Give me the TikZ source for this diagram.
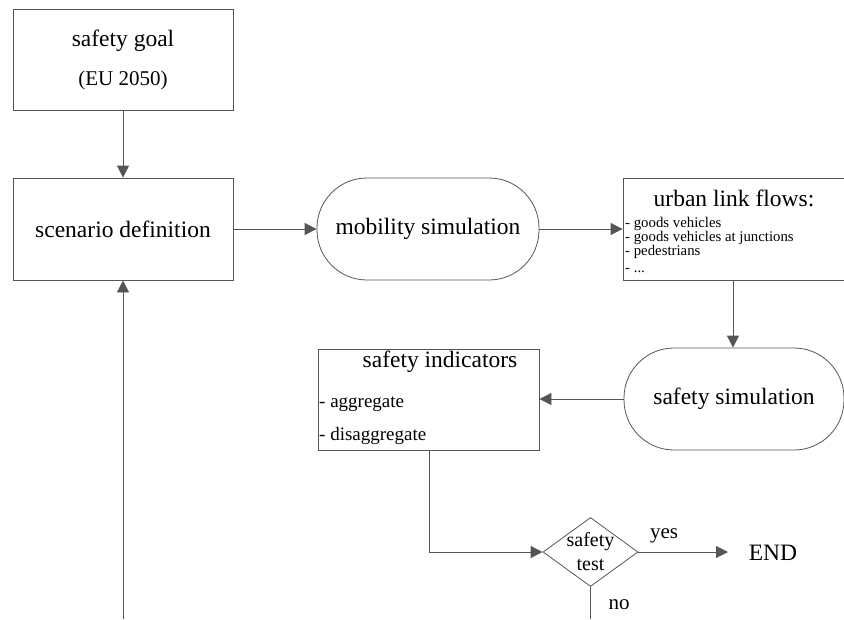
\documentclass[tikz,border=0pt]{standalone}
\usepackage{fontspec}
\setmainfont{Liberation Serif}
\usetikzlibrary{shapes.geometric,arrows.meta}
\definecolor{ln}{HTML}{555555}
\tikzset{
  box/.style={draw=ln, line width=0.8pt, inner sep=0pt},
  stad/.style={draw=ln, line width=0.8pt, rounded corners=50pt, inner sep=0pt},
  conn/.style={draw=ln, line width=0.8pt, -{Triangle[length=12pt,width=12pt]}},
  plain/.style={draw=ln, line width=0.8pt},
  txt/.style={inner sep=0pt, text=black},
  big/.style={font=\fontsize{23.5}{28}\selectfont},
  small/.style={anchor=west, font=\fontsize{14.8}{16}\selectfont},
}
\begin{document}
\begin{tikzpicture}[x=1pt,y=-1pt]
\useasboundingbox (0,0) rectangle (844,619);
% safety goal
\node[box, minimum width=220pt, minimum height=101pt] (goal) at (123,59.5) {};
\node[txt, big] (goalt) at (123,41) {safety goal};
\node[txt, font=\fontsize{21}{25}\selectfont] (goalu) at (123,80) {(EU 2050)};
% scenario
\node[box, minimum width=220pt, minimum height=102pt] (scen) at (123,229) {};
\node[txt, big] (scent) at (123,229) {scenario definition};
% mobility
\node[stad, minimum width=222pt, minimum height=102pt] (mob) at (428,229) {};
\node[txt, big] (mobt) at (428,229) {mobility simulation};
% urban link flows
\node[box, minimum width=224pt, minimum height=102pt] (urb) at (735,229) {};
\node[txt, big] (urbt) at (734,198) {urban link flows:};
\node[txt, small] (u1) at (625,223.5) {- goods vehicles};
\node[txt, small] (u2) at (625,237.5) {- goods vehicles at junctions};
\node[txt, small] (u3) at (625,251.5) {- pedestrians};
\node[txt, small] (u4) at (625,271) {- ...};
% safety simulation
\node[stad, minimum width=220pt, minimum height=102pt] (ssim) at (734,399) {};
\node[txt, big] (ssimt) at (734,399) {safety simulation};
% safety indicators
\node[box, minimum width=221pt, minimum height=101pt] (ind) at (428.5,399.5) {};
\node[txt, big] (indt) at (440,362) {safety indicators};
\node[txt, anchor=west, font=\fontsize{19}{22}\selectfont] (i1) at (319,404) {- aggregate};
\node[txt, anchor=west, font=\fontsize{19}{22}\selectfont] (i2) at (319,436) {- disaggregate};
% diamond
\node[draw=ln, line width=0.8pt, diamond, minimum width=95pt, minimum height=69pt, inner sep=0pt] (dia) at (590.5,552) {};
\node[txt, font=\fontsize{20}{24}\selectfont, align=center] (diat) at (590.5,552) {safety\\test};
\node[txt, big] (endn) at (773,553) {END};
\node[txt, font=\fontsize{21}{25}\selectfont] (yes) at (664,536) {yes};
\node[txt, font=\fontsize{21}{25}\selectfont] (no) at (619,605) {no};
\coordinate (endp) at (728,552);
\coordinate (bot) at (123,619);
\coordinate (nobot) at (590.5,619);
\coordinate (bend) at (429,552);
\coordinate (vx) at (733,0);
% connectors
\draw[conn] (goal.south) -- (scen.north);
\draw[conn] (bot) -- (scen.south);
\draw[conn] (scen.east) -- (mob.west);
\draw[conn] (mob.east) -- (urb.west);
\draw[conn] (urb.south -| vx) -- (ssim.north -| vx);
\draw[conn] (ssim.west) -- (ind.east |- ssim.west);
\draw[conn] (ind.south -| bend) -- (bend) -- (dia.west);
\draw[conn] (dia.east) -- (endp);
\draw[plain] (dia.south) -- (nobot);
\end{tikzpicture}
\end{document}
